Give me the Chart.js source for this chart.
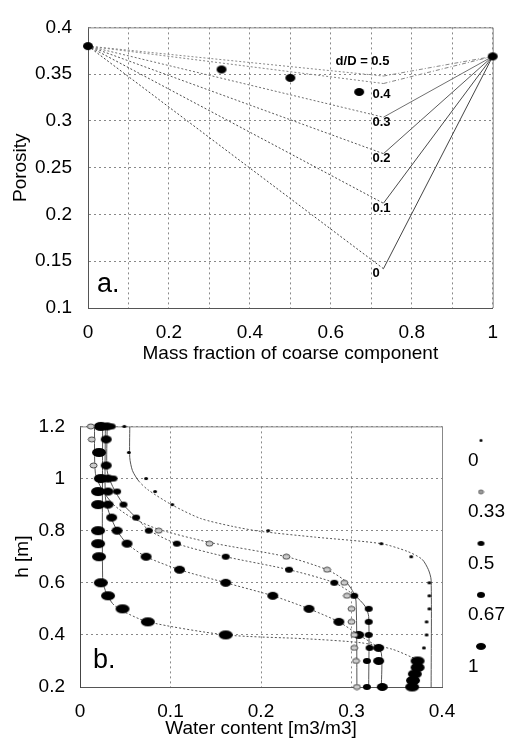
<!DOCTYPE html>
<html>
<head>
<meta charset="utf-8">
<script src="https://cdn.jsdelivr.net/npm/chart.js@4/dist/chart.umd.min.js"></script>
<style>
  html, body { margin: 0; padding: 0; background: #fff; }
  #wrap { position: relative; width: 511px; height: 742px; }
  canvas { position: absolute; left: 0; }
  #porosidad { top: 0; }
  #retencion { top: 400px; }
</style>
</head>
<body>
<div id="wrap">
  <canvas id="porosidad" width="511" height="370" style="width:511px;height:370px"></canvas>
  <canvas id="retencion" width="511" height="342" style="width:511px;height:342px"></canvas>
</div>
<script>
// ---- a. porosidad vs fraccion de la componente gruesa ----
const fraccionGruesa = [0, 0.33, 0.5, 0.67, 1];
const porosidadMedida = [0.38, 0.355, 0.346, 0.331, 0.369];
const relacionesdD = ['0', '0.1', '0.2', '0.3', '0.4', '0.5'];
const porosidadMinima = [0.142, 0.212, 0.265, 0.304, 0.340, 0.348];
const fraccionCritica = 0.73;
const porosidadFina = 0.38;
const porosidadGruesa = 0.369;

// ---- b. perfiles de humedad, h [m] vs contenido de agua ----
const fracciones = ['0', '0.33', '0.5', '0.67', '1'];

const h0 = [1.2, 1.1, 1.0, 0.95, 0.9, 0.8, 0.75, 0.7, 0.6, 0.55, 0.5, 0.45, 0.4, 0.35];
const wc0 = [0.049, 0.054, 0.073, 0.083, 0.102, 0.208, 0.333, 0.366, 0.386, 0.386, 0.386, 0.383, 0.383, 0.380];

const h033 = [1.2, 1.15, 1.05, 0.8, 0.75, 0.7, 0.65, 0.6, 0.55, 0.5, 0.45, 0.4, 0.35, 0.3, 0.2];
const wc033 = [0.012, 0.013, 0.015, 0.087, 0.143, 0.228, 0.273, 0.292, 0.295, 0.300, 0.300, 0.303, 0.303, 0.305, 0.306];

const h05 = [1.2, 1.0, 0.95, 0.9, 0.85, 0.8, 0.75, 0.7, 0.65, 0.6, 0.55, 0.5, 0.45, 0.4, 0.35, 0.3, 0.2];
const wc05 = [0.035, 0.037, 0.041, 0.048, 0.062, 0.076, 0.107, 0.161, 0.231, 0.281, 0.303, 0.319, 0.319, 0.319, 0.320, 0.317, 0.317];

const h067 = [1.2, 1.15, 1.05, 1.0, 0.95, 0.9, 0.85, 0.8, 0.75, 0.7, 0.65, 0.6, 0.55, 0.5, 0.45, 0.4, 0.35, 0.3, 0.2];
const wc067 = [0.030, 0.029, 0.029, 0.031, 0.031, 0.031, 0.035, 0.041, 0.052, 0.073, 0.110, 0.161, 0.213, 0.253, 0.286, 0.308, 0.330, 0.330, 0.334];

const h1 = [1.2, 1.1, 1.0, 0.95, 0.9, 0.8, 0.75, 0.7, 0.6, 0.55, 0.5, 0.45, 0.4, 0.3, 0.275, 0.25, 0.225, 0.2];
const wc1 = [0.023, 0.021, 0.023, 0.020, 0.020, 0.020, 0.020, 0.021, 0.023, 0.031, 0.047, 0.075, 0.161, 0.373, 0.373, 0.370, 0.368, 0.367];

// curvas ajustadas
const hAj0 = [1.2, 1.08, 1.03, 0.99, 0.957, 0.90, 0.847, 0.816, 0.797, 0.775, 0.75, 0.72, 0.69, 0.65, 0.61, 0.2];
const wcAj0 = [0.055, 0.055, 0.058, 0.065, 0.075, 0.101, 0.133, 0.169, 0.2, 0.26, 0.333, 0.362, 0.378, 0.385, 0.388, 0.388];

const hAj033 = [1.2, 1.02, 0.96, 0.9, 0.85, 0.805, 0.755, 0.70, 0.65, 0.61, 0.57, 0.53, 0.2];
const wcAj033 = [0.016, 0.017, 0.024, 0.037, 0.057, 0.087, 0.143, 0.228, 0.273, 0.292, 0.301, 0.305, 0.306];

const hAj05 = [1.2, 1.03, 0.97, 0.9, 0.85, 0.8, 0.75, 0.70, 0.65, 0.6, 0.55, 0.51, 0.47, 0.2];
const wcAj05 = [0.030, 0.030, 0.036, 0.048, 0.062, 0.077, 0.107, 0.161, 0.231, 0.281, 0.304, 0.315, 0.319, 0.319];

const hAj067 = [1.2, 0.93, 0.87, 0.8, 0.75, 0.70, 0.65, 0.60, 0.55, 0.5, 0.45, 0.40, 0.36, 0.33, 0.2];
const wcAj067 = [0.028, 0.028, 0.032, 0.041, 0.052, 0.073, 0.110, 0.161, 0.213, 0.253, 0.286, 0.308, 0.326, 0.333, 0.333];

const hAj1 = [1.2, 0.62, 0.57, 0.52, 0.49, 0.45, 0.40, 0.385, 0.37, 0.345, 0.315, 0.30, 0.2];
const wcAj1 = [0.025, 0.025, 0.028, 0.036, 0.048, 0.075, 0.161, 0.25, 0.31, 0.345, 0.366, 0.374, 0.369];

const FUENTE = 'Liberation Sans, Arial, sans-serif';

function elipse(w, h, relleno, borde) {
  const c = document.createElement('canvas');
  c.width = Math.ceil(w) + 2;
  c.height = Math.ceil(h) + 2;
  const g = c.getContext('2d');
  g.beginPath();
  g.ellipse(c.width / 2, c.height / 2, w / 2, h / 2, 0, 0, Math.PI * 2);
  g.fillStyle = relleno;
  g.fill();
  if (borde) {
    g.lineWidth = 1;
    g.strokeStyle = borde;
    g.stroke();
  }
  return c;
}

const pares = (xs, ys) => xs.map((x, i) => ({ x: x, y: ys[i] }));
const corto = v => String(+v.toFixed(2));  // 0.40 -> 0.4, 1.0 -> 1

// marco superior y derecho
const marco = {
  id: 'marco',
  beforeDatasetsDraw(chart) {
    const { ctx, chartArea: a } = chart;
    ctx.save();
    ctx.strokeStyle = '#888';
    ctx.lineWidth = 1;
    ctx.beginPath();
    ctx.moveTo(a.left, a.top + 0.5);
    ctx.lineTo(a.right + 0.5, a.top + 0.5);
    ctx.lineTo(a.right + 0.5, a.bottom);
    ctx.stroke();
    ctx.restore();
  }
};

// ---------- grafico a ----------
const coloresdD = ['#444', '#4a4a4a', '#5a5a5a', '#707070', '#858585', '#8a8a8a'];

const etiquetasA = {
  id: 'etiquetasA',
  afterDatasetsDraw(chart) {
    const { ctx, scales: { x, y }, chartArea: a } = chart;
    ctx.save();
    ctx.fillStyle = '#000';
    ctx.font = 'bold 13px ' + FUENTE;
    ctx.textBaseline = 'middle';
    const px = x.getPixelForValue(fraccionCritica);
    relacionesdD.forEach((r, i) => {
      const py = y.getPixelForValue(porosidadMinima[i]);
      if (i === relacionesdD.length - 1) {
        ctx.textAlign = 'right';
        ctx.fillText('d/D = ' + r, px + 6, py - 15);
      } else {
        ctx.textAlign = 'left';
        ctx.fillText(r, px - 11, py + (i === 4 ? 11 : 5));
      }
    });
    ctx.font = '27px ' + FUENTE;
    ctx.textAlign = 'left';
    ctx.textBaseline = 'alphabetic';
    ctx.fillText('a.', a.left + 9, a.bottom - 16);
    ctx.restore();
  }
};

const datasetsA = [{
  label: 'medido',
  data: pares(fraccionGruesa, porosidadMedida),
  pointStyle: elipse(10, 8, '#000'),
  pointRadius: 5,
  clip: false,
  order: 0
}].concat(relacionesdD.map((r, i) => ({
  label: 'd/D = ' + r,
  data: [
    { x: 0, y: porosidadFina },
    { x: fraccionCritica, y: porosidadMinima[i] },
    { x: 1, y: porosidadGruesa }
  ],
  showLine: true,
  pointRadius: 0,
  borderColor: coloresdD[i],
  borderWidth: 1,
  segment: {
    borderDash: ctx => ctx.p0DataIndex === 0 ? [2, 2] : (i >= 4 ? [4, 2, 1, 2] : undefined)
  },
  order: 1
})));

new Chart(document.getElementById('porosidad'), {
  type: 'scatter',
  data: { datasets: datasetsA },
  options: {
    responsive: false,
    animation: false,
    events: [],
    layout: { padding: { top: 17, right: 3, left: 0, bottom: 0 } },
    plugins: { legend: { display: false }, tooltip: { enabled: false } },
    scales: {
      x: {
        type: 'linear',
        min: 0,
        max: 1,
        afterFit: s => { s.height = 62; },
        ticks: {
          stepSize: 0.1,
          padding: 13,
          color: '#000',
          font: { family: FUENTE, size: 19 },
          maxRotation: 0,
          autoSkip: false,
          callback: v => Math.round(v * 10) % 2 === 0 ? corto(v) : ''
        },
        grid: { color: '#888', drawTicks: false },
        border: { color: '#555', width: 1, dash: [2, 3] },
        title: {
          display: true,
          text: 'Mass fraction of coarse component',
          color: '#000',
          font: { family: FUENTE, size: 19 },
          padding: { top: 0, bottom: 5 }
        }
      },
      y: {
        type: 'linear',
        min: 0.1,
        max: 0.4,
        afterFit: s => { s.width = 88; },
        ticks: {
          stepSize: 0.05,
          padding: 16,
          color: '#000',
          font: { family: FUENTE, size: 19 },
          callback: corto
        },
        grid: { color: '#888', drawTicks: false },
        border: { color: '#555', width: 1, dash: [2, 3] },
        title: {
          display: true,
          text: 'Porosity',
          color: '#000',
          font: { family: FUENTE, size: 19 },
          padding: { top: 9, bottom: 0 }
        }
      }
    }
  },
  plugins: [marco, etiquetasA]
});

// ---------- grafico b ----------
const medidasB = [[h0, wc0], [h033, wc033], [h05, wc05], [h067, wc067], [h1, wc1]];
const ajustesB = [[hAj0, wcAj0], [hAj033, wcAj033], [hAj05, wcAj05], [hAj067, wcAj067], [hAj1, wcAj1]];

const marcasB = [
  elipse(4, 3, '#000'),
  elipse(7, 5, '#ccc', '#444'),
  elipse(8, 6, '#000'),
  elipse(11, 8, '#000'),
  elipse(14, 9, '#000')
];
const marcasLeyenda = [
  elipse(3, 3, '#000'),
  elipse(5, 4, '#999', '#666'),
  elipse(7, 5, '#000'),
  elipse(8, 6, '#000'),
  elipse(10, 7, '#000')
];

const leyendaB = {
  id: 'leyendaB',
  afterDraw(chart) {
    const { ctx, chartArea: a } = chart;
    ctx.save();
    ctx.fillStyle = '#000';
    ctx.font = '19px ' + FUENTE;
    ctx.textAlign = 'left';
    ctx.textBaseline = 'middle';
    fracciones.forEach((f, i) => {
      const my = a.top + 14 + i * 51.5;
      const m = marcasLeyenda[i];
      ctx.drawImage(m, a.right + 39 - m.width / 2, my - m.height / 2);
      ctx.fillText(f, a.right + 26, my + 20);
    });
    ctx.font = '27px ' + FUENTE;
    ctx.textBaseline = 'alphabetic';
    ctx.fillText('b.', a.left + 13, a.bottom - 19);
    ctx.restore();
  }
};

const datasetsB = [];
medidasB.forEach(([hs, wcs], i) => {
  datasetsB.push({
    label: fracciones[i],
    data: pares(wcs, hs),
    pointStyle: marcasB[i],
    pointRadius: 5,
    clip: false,
    order: 0
  });
});
ajustesB.forEach(([hs, wcs], i) => {
  datasetsB.push({
    label: 'ajuste ' + fracciones[i],
    data: pares(wcs, hs),
    showLine: true,
    pointRadius: 0,
    borderColor: '#555',
    borderWidth: 1,
    tension: 0.25,
    segment: {
      borderDash: ctx => Math.abs(ctx.p1.x - ctx.p0.x) > Math.abs(ctx.p1.y - ctx.p0.y) ? [2, 2] : undefined
    },
    order: 1
  });
});

new Chart(document.getElementById('retencion'), {
  type: 'scatter',
  data: { datasets: datasetsB },
  options: {
    responsive: false,
    animation: false,
    events: [],
    layout: { padding: { top: 24, right: 69, left: 0, bottom: 0 } },
    plugins: { legend: { display: false }, tooltip: { enabled: false } },
    scales: {
      x: {
        type: 'linear',
        min: 0,
        max: 0.4,
        afterFit: s => { s.height = 55; },
        ticks: {
          stepSize: 0.1,
          padding: 13,
          color: '#000',
          font: { family: FUENTE, size: 19 },
          maxRotation: 0,
          callback: corto
        },
        grid: { color: '#888', drawTicks: false },
        border: { color: '#555', width: 1, dash: [2, 3] },
        title: {
          display: true,
          text: 'Water content [m3/m3]',
          color: '#000',
          font: { family: FUENTE, size: 19 },
          padding: { top: 0, bottom: 2 }
        }
      },
      y: {
        type: 'linear',
        min: 0.2,
        max: 1.2,
        afterFit: s => { s.width = 80; },
        ticks: {
          stepSize: 0.2,
          padding: 15,
          color: '#000',
          font: { family: FUENTE, size: 19 },
          callback: corto
        },
        grid: { color: '#888', drawTicks: false },
        border: { color: '#444', width: 1, dash: [2, 3] },
        title: {
          display: true,
          text: 'h [m]',
          color: '#000',
          font: { family: FUENTE, size: 19 },
          padding: { top: 11, bottom: 0 }
        }
      }
    }
  },
  plugins: [marco, leyendaB]
});
</script>
</body>
</html>
